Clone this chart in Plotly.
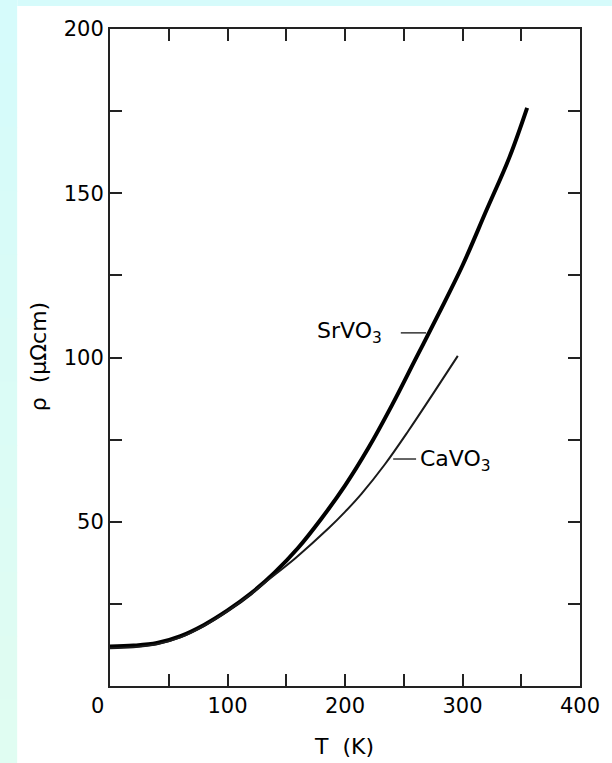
import plotly.graph_objects as go

# ---- data ----
T_sr = [0, 20, 40, 60, 80, 100, 120, 140, 160, 180, 200, 220, 240, 260, 280, 300, 320, 340, 355]
rho_sr = [12, 12.3, 13.1, 15.2, 18.6, 23, 28.2, 34.5, 42, 51, 61, 72.5, 85.5, 99.5, 113.5, 128, 144.5, 161, 176]

T_ca = [0, 20, 40, 60, 80, 100, 120, 130, 158, 186, 200, 214, 234, 254, 275, 296]
rho_ca = [11.5, 11.8, 12.7, 14.8, 18.3, 22.8, 28, 31, 39, 48, 53, 58.5, 67.5, 77.7, 89, 100.5]

x_ticks = [100, 200, 300, 400]
x_ticktext = ["100", "200", "300", "400"]
y_ticks = [50, 100, 150, 200]
y_ticktext = ["50", "100", "150", "200"]

W, H = 612, 763
L, R, TOP, B = 110, 30, 29, 77
pw, ph = W - L - R, H - TOP - B

def px_x(p):
    return (p - L) / pw

def px_y(p):
    return (H - B - p) / ph

FONT = "DejaVu Sans"

fig = go.Figure()
fig.add_trace(go.Scatter(x=T_sr, y=rho_sr, mode="lines",
                         line=dict(color="black", width=4, shape="spline", smoothing=1.0),
                         showlegend=False, hoverinfo="skip"))
fig.add_trace(go.Scatter(x=T_ca, y=rho_ca, mode="lines",
                         line=dict(color="#1a1a1a", width=2, shape="spline", smoothing=1.0),
                         showlegend=False, hoverinfo="skip"))

shapes = []
# background: cyan frame with white panel
n = 12
for i in range(n):
    y0 = H * i / n
    y1 = H * (i + 1) / n
    t = i / (n - 1)
    r = int(0xd6 + (0xe0 - 0xd6) * t)
    g = int(0xfb + (0xfd - 0xfb) * t)
    b = int(0xfb + (0xf2 - 0xfb) * t)
    shapes.append(dict(type="rect", xref="paper", yref="paper", layer="below",
                       x0=px_x(-2), x1=px_x(17), y0=px_y(y1 + 1), y1=px_y(y0),
                       fillcolor=f"rgb({r},{g},{b})", line=dict(width=0)))
shapes.append(dict(type="rect", xref="paper", yref="paper", layer="below",
                   x0=px_x(17), x1=px_x(W + 2), y0=px_y(6), y1=px_y(-2),
                   fillcolor="#d6fbfb", line=dict(width=0)))
shapes.append(dict(type="rect", xref="paper", yref="paper", layer="below",
                   x0=px_x(17), x1=px_x(W + 2), y0=px_y(H + 2), y1=px_y(6),
                   fillcolor="white", line=dict(width=0)))
# label leader lines
shapes.append(dict(type="line", xref="x", yref="y", x0=247.5, x1=269, y0=107.5, y1=107.5,
                   line=dict(color="#333", width=1.5)))
shapes.append(dict(type="line", xref="x", yref="y", x0=241, x1=260.5, y0=69.1, y1=69.1,
                   line=dict(color="#333", width=1.5)))

annotations = [
    dict(x=233, y=107.5, xref="x", yref="y", text="SrVO<sub>3</sub>", showarrow=False,
         xanchor="right", yanchor="middle", font=dict(family=FONT, size=22, color="black")),
    dict(x=262.5, y=68.5, xref="x", yref="y", text="CaVO<sub>3</sub>", showarrow=False,
         xanchor="left", yanchor="middle", font=dict(family=FONT, size=22, color="black")),
    dict(x=px_x(97), y=px_y(706), xref="paper", yref="paper", text="0", showarrow=False,
         xanchor="center", yanchor="middle", font=dict(family=FONT, size=21, color="black")),
    dict(x=px_x(345), y=px_y(746), xref="paper", yref="paper", text="T\u00a0\u00a0(K)", showarrow=False,
         xanchor="center", yanchor="middle", font=dict(family=FONT, size=22, color="black")),
    dict(x=px_x(38), y=px_y(357), xref="paper", yref="paper", text="\u03c1\u00a0\u00a0(\u03bc\u03a9cm)", showarrow=False,
         textangle=-90, xanchor="center", yanchor="middle", font=dict(family=FONT, size=22, color="black")),
]

axis_common = dict(showgrid=False, zeroline=False, showline=True, linecolor="#222", linewidth=2,
                   ticks="inside", mirror="ticks", tickcolor="#222", tickwidth=1.5, ticklen=12,
                   tickfont=dict(family=FONT, size=21, color="black"))

fig.update_layout(
    width=W, height=H,
    margin=dict(l=L, r=R, t=TOP, b=B, pad=0),
    paper_bgcolor="white", plot_bgcolor="white",
    shapes=shapes, annotations=annotations,
    xaxis=dict(range=[0, 400], tickmode="array", tickvals=x_ticks, ticktext=x_ticktext,
               minor=dict(tick0=0, dtick=50, ticks="inside", ticklen=12, tickcolor="#222", tickwidth=1.5, showgrid=False),
               **axis_common),
    yaxis=dict(range=[0, 200], tickmode="array", tickvals=y_ticks, ticktext=y_ticktext,
               minor=dict(tick0=0, dtick=25, ticks="inside", ticklen=12, tickcolor="#222", tickwidth=1.5, showgrid=False),
               **axis_common),
)

fig.write_html("out.html")
